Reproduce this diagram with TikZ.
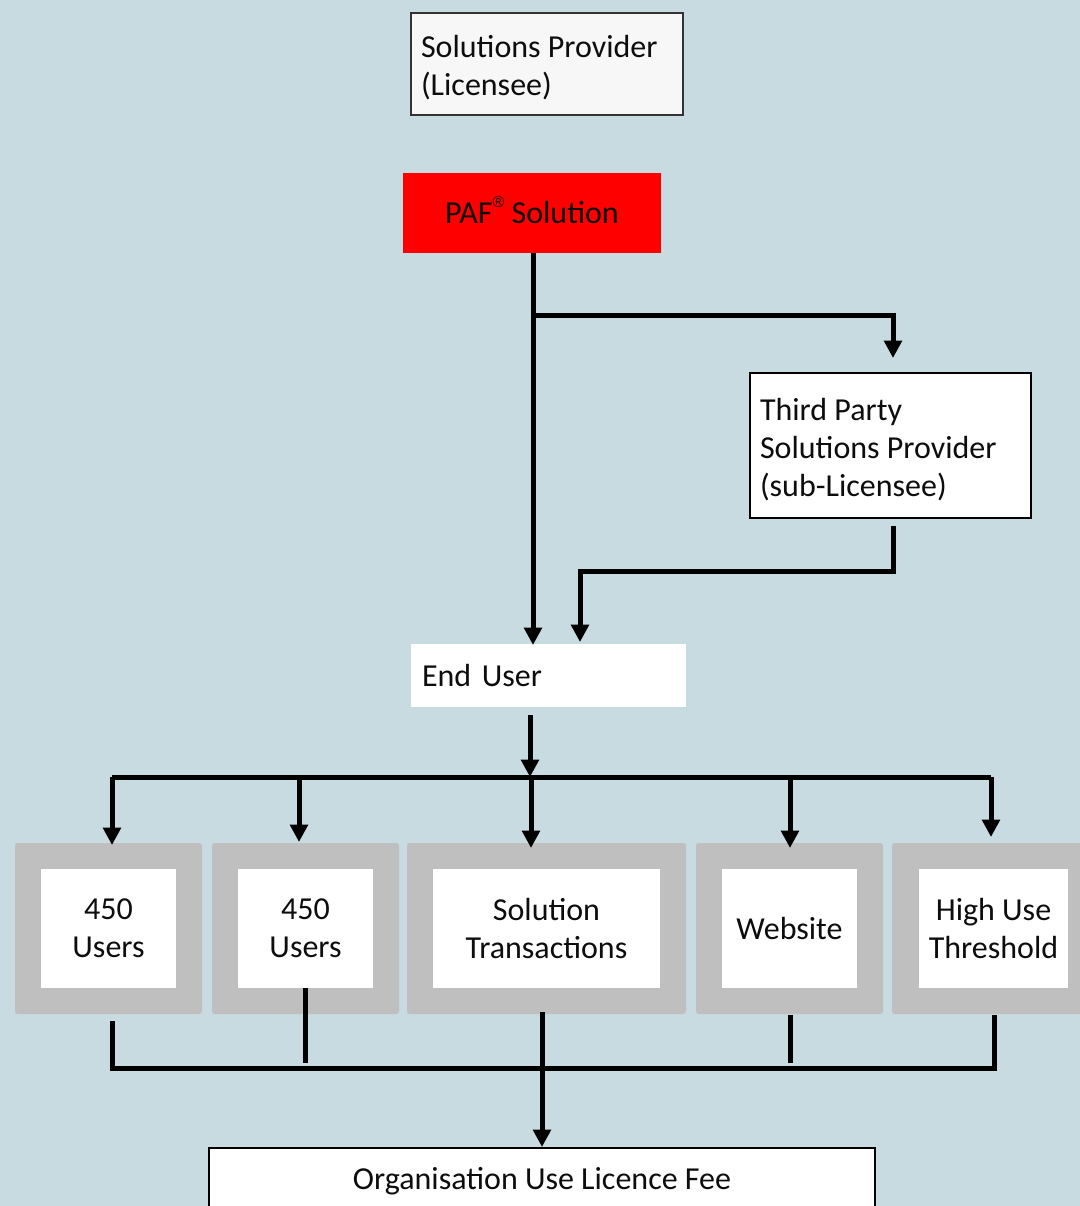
\documentclass[tikz,border=0pt]{standalone}
\usepackage{fontspec}
\setmainfont{Carlito}
\newfontfamily\regfont{Liberation Sans}
\usetikzlibrary{arrows.meta}
\definecolor{bg}{HTML}{C8DBE0}
\definecolor{framegray}{HTML}{BFBFBF}
\definecolor{paler}{HTML}{F7F7F7}
\definecolor{ink}{HTML}{0D0D0D}
\newcommand{\lowerpar}[3]{\raisebox{#1}[\height][\depth]{\parbox[c]{#2}{\raggedright #3}}}
\begin{document}
\begin{tikzpicture}[x=0.75pt,y=-0.75pt,
  every node/.style={font=\fontsize{24}{28.5}\selectfont, text=ink, inner sep=0pt, outer sep=0pt, anchor=north west},
  conn/.style={line width=3.75pt, -{Triangle[width=13pt,length=13pt]}},
  wire/.style={line width=3.75pt},
  leftbox/.style={inner xsep=7.5pt},
  frameout/.style={fill=framegray, rounded corners=2pt, minimum height=128.25pt},
  framein/.style={fill=white, align=center, minimum height=89.25pt, anchor=center},
]
\fill[bg] (0,0) rectangle (1080,1206);
\useasboundingbox (0,0) rectangle (1080,1206);

% top boxes
\node[leftbox, draw=black!80, line width=1.1pt, fill=paler, minimum width=204pt, minimum height=76.5pt] (sp) at (411,13) {\lowerpar{-3pt}{189pt}{Solutions Provider\\(Licensee)}};
\node[fill=red, minimum width=193.5pt, minimum height=60pt, align=center] (paf) at (403,173) {PAF\raisebox{0.5em}[0pt][0pt]{\regfont\fontsize{12}{12}\selectfont ®} Solution};
\node[leftbox, draw=black, line width=1.1pt, fill=white, minimum width=210.75pt, minimum height=108.75pt] (tp) at (750,373) {\lowerpar{-3pt}{195.75pt}{Third Party\\Solutions Provider\\(sub-Licensee)}};
\node[leftbox, inner xsep=8.25pt, fill=white, text width=189.75pt, align=left, minimum height=47.25pt] (eu) at (411,644) {End User};

% gray frames
\node[frameout, minimum width=140.25pt] (g1) at (15,843) {};
\node[frameout, minimum width=140.25pt] (g2) at (212,843) {};
\node[frameout, minimum width=209.25pt] (g3) at (407,843) {};
\node[frameout, minimum width=140.25pt] (g4) at (696,843) {};
\node[frameout, minimum width=150pt] (g5) at (892,843) {};

\node[framein, minimum width=101.25pt] (u1) at (108.5,928.5) {450\\Users};
\node[framein, minimum width=101.25pt] (u2) at (305.5,928.5) {450\\Users};
\node[framein, minimum width=170.25pt] (st) at (546.5,928.5) {Solution\\Transactions};
\node[framein, minimum width=101.25pt] (ws) at (789.5,928.5) {Website};
\node[framein, minimum width=111.75pt] (hu) at (993.5,928.5) {High Use\\Threshold};

\node[draw=black, line width=1.1pt, fill=white, minimum width=499.5pt, minimum height=52.5pt, align=center] (org) at (209,1148) {};
\node[anchor=center] (orgt) at (542,1181) {Organisation Use Licence Fee};

% coordinates
\coordinate (pafb) at (533,253);
\coordinate (split) at (533,315);
\coordinate (tpin) at (893,358);
\coordinate (euin1) at (533,645);
\coordinate (tpout) at (893,526);
\coordinate (tpturn) at (893,571);
\coordinate (euin2t) at (580,571);
\coordinate (euin2) at (580,642);
\coordinate (euout) at (530,715);
\coordinate (bus) at (530,777);
\coordinate (busl) at (112,777);
\coordinate (busr) at (991,777);

% connectors
\draw[conn] (pafb) -- (euin1);
\draw[conn] (split) -- (tpin |- split) -- (tpin);
\draw[conn] (tpout) -- (tpturn) -- (euin2t) -- (euin2);
\draw[conn] (euout) -- (bus);
\draw[wire] (busl) -- (busr);
\draw[conn] (busl) -- (112,845);
\draw[conn] (299,777) -- (299,842);
\draw[conn] (531,777) -- (531,848);
\draw[conn] (790,777) -- (790,848);
\draw[conn] (busr) -- (991,837);

\coordinate (bl) at (112,1068);
\coordinate (br) at (994,1068);
\draw[wire] (112,1021) -- (bl) -- (br) -- (994,1015);
\draw[wire] (305,988) -- (305,1063);
\draw[wire] (790,1015) -- (790,1063);
\draw[conn] (542,1012) -- (542,1147);
\end{tikzpicture}
\end{document}
